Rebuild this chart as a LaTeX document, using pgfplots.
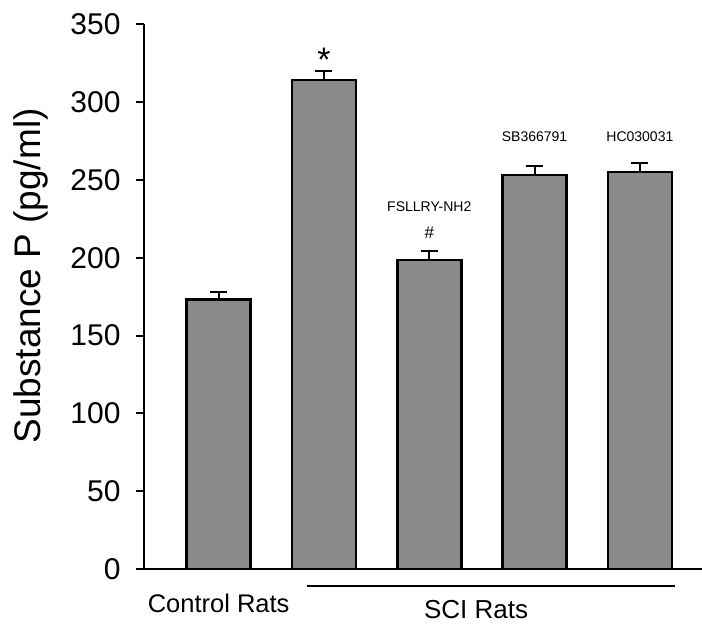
\documentclass[border=0pt]{standalone}
\usepackage{pgfplots}
\pgfplotsset{compat=1.18}
\usepackage{fontspec}
\setmainfont{Liberation Sans}
\definecolor{barfill}{RGB}{138,138,138}
\begin{document}
\begin{tikzpicture}
\useasboundingbox (-144pt,-56pt) rectangle (558pt,569pt);
\begin{axis}[
  scale only axis,
  width=558pt, height=544.7pt,
  at={(0pt,0pt)}, anchor=south west,
  xmin=-0.709, xmax=4.59,
  ymin=0, ymax=350,
  axis x line*=bottom, axis y line*=left,
  axis line style={line width=2pt, -},
  xtick=\empty,
  ytick={0,50,100,150,200,250,300,350},
  tick align=outside,
  major tick length=8pt,
  tick style={line width=2pt, black},
  /pgf/number format/assume math mode=true,
  yticklabel style={font=\fontsize{30}{32}\selectfont, xshift=-12pt},
  every axis y label/.style={at={(axis description cs:-0.2025,0.538)}, rotate=90, anchor=center},
  ylabel={\fontsize{37}{40}\selectfont Substance P (pg/ml)},
  clip=false,
]
\addplot[ybar, bar width=0.608, bar shift=0pt, fill=barfill, draw=black, line width=2.5pt,
  error bars/.cd, y dir=plus, y explicit,
  error bar style={line width=2pt, black},
  error mark options={rotate=90, mark size=8.5pt, line width=2pt, black}]
  table[x=x, y=y, y error=e] {
x y e
0 173.3 4.7
1 314.3 5.7
2 198.6 5.8
3 253.2 6.0
4 255.0 6.0
};
\node[font=\fontsize{34}{36}\selectfont] at (axis cs:1,327.5) {*};
\node[font=\fontsize{14}{16}\selectfont] at (axis cs:2,232.6) {FSLLRY-NH2};
\node[font=\fontsize{17}{19}\selectfont] at (axis cs:2,215.9) {\#};
\node[font=\fontsize{14}{16}\selectfont] at (axis cs:3,277.6) {SB366791};
\node[font=\fontsize{14}{16}\selectfont] at (axis cs:4,277.6) {HC030031};
\node[font=\fontsize{25.5}{28}\selectfont] at (axis cs:0,-21.8) {Control Rats};
\node[font=\fontsize{26}{28}\selectfont] at (axis cs:2.445,-26.0) {SCI Rats};
\draw[line width=2pt] (axis cs:0.839,-10.9) -- (axis cs:4.333,-10.9);
\end{axis}
\end{tikzpicture}
\end{document}
